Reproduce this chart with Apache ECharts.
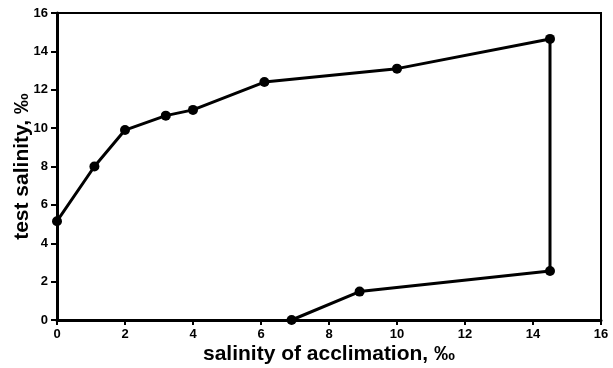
<!DOCTYPE html>
<html>
<head>
<meta charset="utf-8">
<script src="https://cdn.jsdelivr.net/npm/echarts@6/dist/echarts.min.js"></script>
<style>html,body{margin:0;padding:0;background:#fff}#c{width:613px;height:368px}</style>
</head>
<body>
<div id="c"></div>
<script>
// Data
var acclimation = [0, 1.1, 2.0, 3.2, 4.0, 6.1, 10.0, 14.5, 14.5, 8.9, 6.9];
var testSalinity = [5.15, 8.0, 9.9, 10.65, 10.95, 12.4, 13.1, 14.65, 2.55, 1.48, 0];
var xTitle = 'salinity of acclimation, ‰';
var yTitle = 'test salinity, ‰';

var points = acclimation.map(function (x, i) { return [x, testSalinity[i]]; });

var chart = echarts.init(document.getElementById('c'), null, {renderer: 'canvas'});
var labelFont = {color: '#000', fontFamily: 'Liberation Sans, Arial, sans-serif', fontWeight: 'bold', fontSize: 13};
var titleFont = {color: '#000', fontFamily: 'Liberation Sans, Arial, sans-serif', fontWeight: 'bold', fontSize: 21};
chart.setOption({
  animation: false,
  backgroundColor: '#fff',
  grid: {left: 57, right: 12, top: 13, bottom: 48, containLabel: false, outerBoundsMode: 'none',
         show: true, borderColor: '#000', borderWidth: 2, backgroundColor: 'transparent'},
  xAxis: {
    type: 'value', min: 0, max: 16, interval: 2,
    name: xTitle, nameLocation: 'middle', nameGap: 24, nameMoveOverlap: false, nameTextStyle: titleFont,
    axisLine: {show: true, onZero: false, lineStyle: {color: '#000', width: 3}},
    axisTick: {show: true, length: 5, lineStyle: {color: '#000', width: 2}},
    axisLabel: Object.assign({margin: 8}, labelFont),
    splitLine: {show: false}
  },
  yAxis: {
    type: 'value', min: 0, max: 16, interval: 2,
    name: yTitle, nameLocation: 'middle', nameGap: 24, nameMoveOverlap: false, nameTextStyle: titleFont,
    axisLine: {show: true, onZero: false, lineStyle: {color: '#000', width: 3}},
    axisTick: {show: true, length: 6, lineStyle: {color: '#000', width: 2}},
    axisLabel: Object.assign({margin: 9}, labelFont),
    splitLine: {show: false}
  },
  series: [{
    type: 'line',
    data: points,
    symbol: 'circle',
    symbolSize: 10,
    lineStyle: {color: '#000', width: 3},
    itemStyle: {color: '#000'},
    clip: false
  }]
});
</script>
</body>
</html>
